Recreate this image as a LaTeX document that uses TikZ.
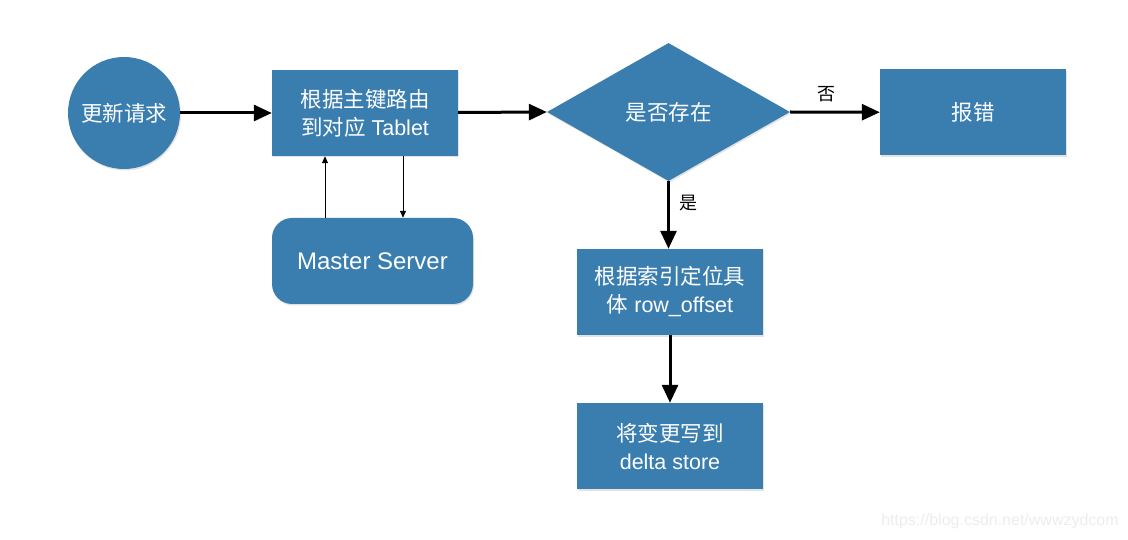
\documentclass[tikz,border=0pt]{standalone}
\usepackage{fontspec}
\setmainfont{Liberation Sans}
\newfontfamily\cjk{Noto Sans CJK SC}
\usetikzlibrary{shapes.geometric,arrows.meta,shadows}
\definecolor{boxblue}{HTML}{3A7EB0}
\tikzset{
  base/.style={fill=boxblue, text=white, draw=none, align=center, inner sep=0pt,
    font=\fontsize{21.5}{28}\selectfont,
    drop shadow={opacity=0.22, shadow xshift=1pt, shadow yshift=-1.5pt}},
  rectbox/.style={base, rectangle, minimum width=186pt, minimum height=86pt},
  roundbox/.style={base, rectangle, rounded corners=20pt, minimum width=201pt, minimum height=86pt},
  circbox/.style={base, circle, minimum size=112pt},
  decbox/.style={base, diamond, minimum width=243pt, minimum height=138pt, aspect=1.76},
  thick arrow/.style={line width=3pt, -{Triangle[length=18pt,width=16pt]}},
  thin arrow/.style={line width=1pt, -{Triangle[length=7pt,width=6pt]}},
  lbl/.style={font=\cjk\fontsize{18}{20}\selectfont, text=black}
}
\begin{document}
\begin{tikzpicture}[x=1pt,y=-1pt]
\useasboundingbox (0,0) rectangle (1128,540);
\fill[white] (0,0) rectangle (1128,540);
\node[circbox] (req) at (124,113) {\cjk 更新请求};
\node[rectbox] (route) at (365,113) {\cjk 根据主键路由\\{\cjk 到对应} Tablet};
\node[roundbox, font=\fontsize{24}{28}\selectfont] (ms) at (372.5,261) {Master Server};
\node[decbox] (exist) at (668.5,112) {\cjk 是否存在};
\node[rectbox] (err) at (973,112.5) {\cjk 报错};
\node[rectbox] (locate) at (670,292) {\cjk 根据索引定位具\\{\cjk 体} row\_offset};
\node[rectbox] (write) at (670,446) {\cjk 将变更写到\\delta store};

\draw[thick arrow] (req) -- (route);
\draw[thick arrow] (route) -- (exist.west);
\draw[thick arrow] (exist.east) -- node[lbl, above=5pt, pos=0.4] (no) {否} (err);
\draw[thick arrow] (exist.south) -- node[lbl, right=6pt, pos=0.32] (yes) {是} (exist.south |- locate.north);
\draw[thick arrow] (locate) -- (write);
\coordinate (up1) at (325,218);
\coordinate (dn1) at (403,156);
\draw[thin arrow] (up1) -- (up1 |- route.south);
\draw[thin arrow] (dn1) -- (dn1 |- ms.north);

\node[text=black!7, font=\fontsize{16}{18}\selectfont] (wm) at (1000,521) {https://blog.csdn.net/wwwzydcom};
\end{tikzpicture}
\end{document}
